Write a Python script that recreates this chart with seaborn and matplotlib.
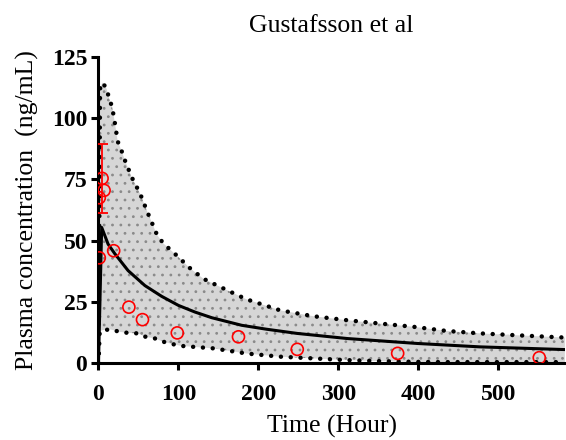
import numpy as np
import pandas as pd
import matplotlib
matplotlib.use("Agg")
import matplotlib.pyplot as plt
import seaborn as sns

# ---- data ----
obs_time = [1, 1, 4.5, 7, 19, 38, 55, 98.5, 175, 248.5, 374, 551]
obs_conc = [43.0, 67.5, 75.4, 70.5, 45.9, 22.9, 17.8, 12.4, 10.8, 5.7, 4.05, 2.3]
err_time = [4.0]
err_mean = [75.4]
err_sd = [14.0]

mean_time = [0, 4, 12, 20.6, 37, 58, 79, 100, 120.6, 141.5, 162, 179, 210, 248, 311, 398, 477, 583]
mean_conc = [0, 55.4, 48.6, 44.6, 37.8, 31.7, 27.3, 23.6, 20.9, 18.6, 16.9, 15.5, 13.9, 12.2,
             10.1, 8.1, 6.7, 5.6]

upper_time = [0, 2, 5, 10, 13, 17, 20, 24, 29, 33, 41.5, 52, 62, 73, 81, 98, 114, 131, 143.5,
              164, 185, 227, 268.5, 310, 352, 393.5, 435, 477, 518.5, 583]
upper_conc = [0, 112, 114.5, 112, 108.4, 104.5, 99, 90.5, 86.5, 82.8, 75.9, 69.2, 61, 52.5,
              48.9, 43.9, 38.9, 34.5, 32.5, 29.3, 26.1, 21.6, 19.2, 17.6, 16.2, 14.9, 13.2,
              12.2, 11.5, 10.5]

lower_time = [0, 1.5, 4, 15, 27, 37, 49, 59, 71, 81, 93, 103, 143.5, 185, 227, 268.5,
              310, 352, 393.5, 435, 583]
lower_conc = [0, 12.5, 13.5, 13.8, 12.8, 12.4, 12.2, 10.8, 10.1, 8.8, 7.8, 7.1, 6.1, 4.0,
              2.7, 2.0, 1.3, 0.9, 0.6, 0.5, 0.5]

x_ticks = [0, 100, 200, 300, 400, 500]
y_ticks = [0, 25, 50, 75, 100, 125]

sns.set_style("ticks")
plt.rcParams['font.family'] = ['Liberation Serif', 'DejaVu Serif']
plt.rcParams['text.color'] = 'black'
plt.rcParams['axes.labelcolor'] = 'black'
plt.rcParams['xtick.color'] = 'black'
plt.rcParams['ytick.color'] = 'black'
plt.rcParams['hatch.color'] = '#8a8a8a'
plt.rcParams['hatch.linewidth'] = 0.8

fig = plt.figure(figsize=(5.66, 4.4), dpi=100)
ax = fig.add_axes([0.174, 0.1743, 0.824, 0.6968])

# shaded band
poly_x = np.concatenate([upper_time, lower_time[::-1]])
poly_y = np.concatenate([upper_conc, lower_conc[::-1]])
ax.fill(poly_x, poly_y, facecolor='#d6d6d6', edgecolor='#8a8a8a', hatch='..',
        linewidth=0, zorder=1)

dot_style = (0, (0.01, 2.2))
df_up = pd.DataFrame({'t': upper_time, 'c': upper_conc})
df_lo = pd.DataFrame({'t': lower_time, 'c': lower_conc})
df_mean = pd.DataFrame({'t': mean_time, 'c': mean_conc})
df_obs = pd.DataFrame({'t': obs_time, 'c': obs_conc})

for d in (df_up, df_lo):
    sns.lineplot(data=d, x='t', y='c', ax=ax, color='black', linewidth=3.2,
                 estimator=None, sort=False, zorder=3)
    ln = ax.lines[-1]
    ln.set_linestyle(dot_style)
    ln.set_dash_capstyle('round')

sns.lineplot(data=df_mean, x='t', y='c', ax=ax, color='black', linewidth=2.2,
             estimator=None, sort=False, zorder=4)

ax.errorbar(err_time, err_mean, yerr=err_sd, fmt='none', ecolor='red',
            elinewidth=1.3, capsize=4, capthick=1.3, zorder=5)

sns.scatterplot(data=df_obs, x='t', y='c', ax=ax, marker='o', s=75,
                facecolor='none', edgecolor='red', linewidth=1.2, zorder=6)

ax.set_xlim(0, 583)
ax.set_ylim(0, 125)
ax.set_xticks(x_ticks)
ax.set_yticks(y_ticks)
ax.set_xticklabels([str(v) for v in x_ticks], fontweight='bold', fontsize=17)
ax.set_yticklabels([str(v) for v in y_ticks], fontweight='bold', fontsize=17)
ax.tick_params(axis='both', direction='out', length=5, width=2.2, pad=3, colors='black')
ax.tick_params(axis='x', pad=10)
for s in ('top', 'right'):
    ax.spines[s].set_visible(False)
for s in ('left', 'bottom'):
    ax.spines[s].set_linewidth(2.2)
    ax.spines[s].set_color('black')

ax.set_xlabel('Time (Hour)', fontsize=18.5, labelpad=7, color='black')
ax.set_ylabel('Plasma concentration  (ng/mL)', fontsize=18.5, labelpad=9, color='black')
ax.set_title('Gustafsson et al', fontsize=18.5, pad=18, color='black')

fig.savefig('out.png', dpi=100)
